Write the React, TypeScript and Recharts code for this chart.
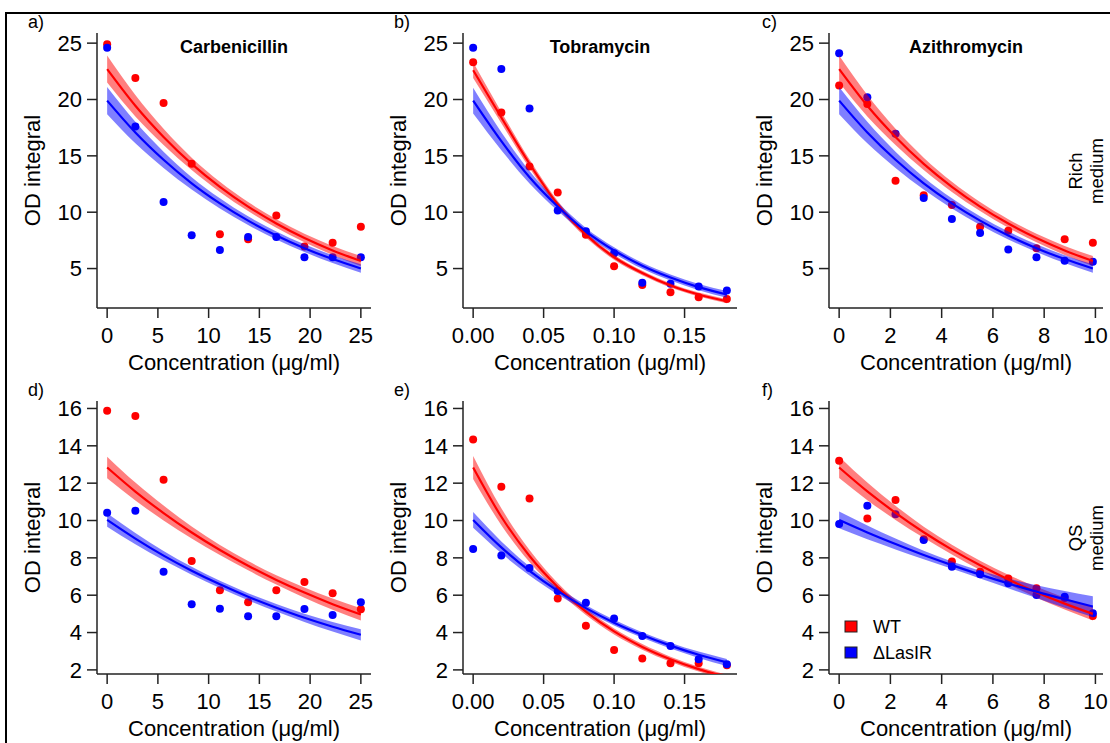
import React from 'react';
import { ComposedChart, Line, Area, XAxis, YAxis } from 'recharts';

const RED = '#ff0000';
const BLUE = '#0000ff';
const FONT = '"Liberation Sans", Arial, Helvetica, sans-serif';

// concentrations (µg/ml)
const carbX = [0, 2.78, 5.56, 8.33, 11.11, 13.89, 16.67, 19.44, 22.22, 25];
const tobraX = [0, 0.02, 0.04, 0.06, 0.08, 0.1, 0.12, 0.14, 0.16, 0.18];
const azithX = [0, 1.1, 2.2, 3.3, 4.4, 5.5, 6.6, 7.7, 8.8, 9.9];

// a) Carbenicillin, rich medium
const wtA = [24.9, 21.9, 19.7, 14.3, 8.05, 7.6, 9.7, 6.95, 7.3, 8.7];
const lasA = [24.6, 17.6, 10.9, 7.95, 6.65, 7.8, 7.8, 6.0, 6.0, 6.0];
const wtFitA = [22.7, 19.45, 16.68, 14.29, 12.25, 10.5, 9.0, 7.71, 6.61, 5.67];
const wtLoA = [21.5, 18.5, 15.96, 13.74, 11.8, 10.1, 8.62, 7.33, 6.21, 5.22];
const wtHiA = [23.9, 20.4, 17.4, 14.84, 12.7, 10.9, 9.38, 8.09, 7.01, 6.12];
const lasFitA = [19.9, 17.07, 14.65, 12.56, 10.78, 9.25, 7.93, 6.81, 5.84, 5.01];
const lasLoA = [18.7, 16.12, 13.93, 12.01, 10.33, 8.87, 7.58, 6.47, 5.49, 4.63];
const lasHiA = [21.1, 18.02, 15.37, 13.11, 11.23, 9.63, 8.28, 7.15, 6.19, 5.39];

// b) Tobramycin, rich medium
const wtB = [23.3, 18.85, 14.05, 11.75, 8.0, 5.2, 3.55, 2.9, 2.45, 2.3];
const lasB = [24.6, 22.7, 19.2, 10.15, 8.3, 6.35, 3.75, 3.65, 3.4, 3.05];
const wtFitB = [22.6, 18.4, 14.3, 10.7, 8.0, 6.0, 4.6, 3.5, 2.7, 2.1];
const wtLoB = [21.9, 17.9, 13.92, 10.4, 7.75, 5.78, 4.4, 3.32, 2.53, 1.93];
const wtHiB = [23.3, 18.9, 14.68, 11.0, 8.25, 6.22, 4.8, 3.68, 2.87, 2.27];
const lasFitB = [19.9, 16.3, 13.1, 10.5, 8.3, 6.6, 5.25, 4.2, 3.35, 2.7];
const lasLoB = [18.75, 15.5, 12.55, 10.12, 8.0, 6.32, 4.98, 3.93, 3.07, 2.4];
const lasHiB = [21.05, 17.1, 13.65, 10.88, 8.6, 6.88, 5.52, 4.47, 3.63, 3.0];

// c) Azithromycin, rich medium
const wtC = [21.25, 19.6, 12.8, 11.5, 10.65, 8.7, 8.35, 6.8, 7.6, 7.3];
const lasC = [24.1, 20.2, 16.95, 11.25, 9.4, 8.15, 6.7, 6.0, 5.7, 5.6];
const wtFitC = [22.7, 19.45, 16.68, 14.29, 12.25, 10.5, 9.0, 7.71, 6.61, 5.67];
const wtLoC = [21.5, 18.5, 15.96, 13.74, 11.8, 10.1, 8.62, 7.33, 6.21, 5.22];
const wtHiC = [23.9, 20.4, 17.4, 14.84, 12.7, 10.9, 9.38, 8.09, 7.01, 6.12];
const lasFitC = [19.9, 17.07, 14.65, 12.56, 10.78, 9.25, 7.93, 6.81, 5.84, 5.01];
const lasLoC = [18.7, 16.12, 13.93, 12.01, 10.33, 8.87, 7.58, 6.47, 5.49, 4.63];
const lasHiC = [21.1, 18.02, 15.37, 13.11, 11.23, 9.63, 8.28, 7.15, 6.19, 5.39];

// d) Carbenicillin, QS medium
const wtD = [15.88, 15.6, 12.18, 7.83, 6.26, 5.62, 6.26, 6.71, 6.1, 5.25];
const lasD = [10.42, 10.52, 7.26, 5.51, 5.28, 4.87, 4.87, 5.26, 4.94, 5.62];
const wtFitD = [12.84, 11.55, 10.4, 9.36, 8.42, 7.58, 6.82, 6.14, 5.52, 4.97];
const wtLoD = [12.26, 11.07, 10.0, 9.04, 8.15, 7.33, 6.57, 5.87, 5.22, 4.64];
const wtHiD = [13.42, 12.03, 10.8, 9.68, 8.69, 7.83, 7.07, 6.41, 5.82, 5.3];
const lasFitD = [10.03, 9.03, 8.12, 7.31, 6.58, 5.92, 5.33, 4.79, 4.31, 3.88];
const lasLoD = [9.67, 8.73, 7.87, 7.1, 6.39, 5.73, 5.13, 4.57, 4.05, 3.58];
const lasHiD = [10.39, 9.33, 8.37, 7.52, 6.77, 6.11, 5.53, 5.01, 4.57, 4.18];

// e) Tobramycin, QS medium
const wtE = [14.34, 11.81, 11.18, 5.82, 4.37, 3.07, 2.61, 2.36, 2.36, 2.25];
const lasE = [8.47, 8.12, 7.46, 6.23, 5.6, 4.75, 3.82, 3.28, 2.57, 2.3];
const wtFitE = [12.84, 10.2, 8.1, 6.44, 5.12, 4.06, 3.23, 2.57, 2.04, 1.62];
const wtLoE = [12.22, 9.75, 7.78, 6.22, 4.94, 3.9, 3.08, 2.43, 1.91, 1.5];
const wtHiE = [13.46, 10.65, 8.42, 6.66, 5.3, 4.22, 3.38, 2.71, 2.17, 1.74];
const lasFitE = [10.03, 8.56, 7.3, 6.23, 5.31, 4.53, 3.87, 3.3, 2.81, 2.4];
const lasLoE = [9.61, 8.24, 7.06, 6.04, 5.15, 4.38, 3.72, 3.14, 2.64, 2.21];
const lasHiE = [10.45, 8.88, 7.54, 6.42, 5.47, 4.68, 4.02, 3.46, 2.98, 2.59];

// f) Azithromycin, QS medium
const wtF = [13.2, 10.11, 11.1, 9.0, 7.8, 7.26, 6.9, 6.37, 5.85, 4.89];
const lasF = [9.81, 10.79, 10.33, 8.95, 7.53, 7.12, 6.64, 6.01, 5.92, 5.03];
const wtFitF = [12.84, 11.56, 10.41, 9.37, 8.44, 7.6, 6.84, 6.16, 5.55, 5.0];
const wtLoF = [12.27, 11.09, 10.03, 9.07, 8.18, 7.35, 6.58, 5.87, 5.23, 4.64];
const wtHiF = [13.41, 12.03, 10.79, 9.67, 8.7, 7.85, 7.1, 6.45, 5.87, 5.36];
const lasFitF = [10.03, 9.36, 8.74, 8.15, 7.61, 7.1, 6.63, 6.19, 5.78, 5.39];
const lasLoF = [9.58, 8.99, 8.45, 7.92, 7.41, 6.89, 6.37, 5.85, 5.33, 4.83];
const lasHiF = [10.48, 9.73, 9.03, 8.38, 7.81, 7.31, 6.89, 6.53, 6.23, 5.95];

// axis ticks
const carbTicks = [0, 5, 10, 15, 20, 25];
const tobraTicks = [0, 0.05, 0.1, 0.15];
const azithTicks = [0, 2, 4, 6, 8, 10];
const richTicks = [5, 10, 15, 20, 25];
const qsTicks = [2, 4, 6, 8, 10, 12, 14, 16];

const titles = ['Carbenicillin', 'Tobramycin', 'Azithromycin'];
const letters = ['a)', 'b)', 'c)', 'd)', 'e)', 'f)'];
const seriesNames = ['WT', '\u0394LasIR'];

const rows = (
  x: number[], wt: number[], las: number[],
  wtFit: number[], wtLo: number[], wtHi: number[],
  lasFit: number[], lasLo: number[], lasHi: number[]
) =>
  x.map((v, i) => ({
    x: v,
    wt: wt[i],
    las: las[i],
    wtFit: wtFit[i],
    lasFit: lasFit[i],
    wtBand: [wtLo[i], wtHi[i]],
    lasBand: [lasLo[i], lasHi[i]],
  }));

// plot-area geometry (page px)
const colX = [97, 463, 829];
const PLOT_W = 274;
const rowY = [
  { y0: 33, y1: 308 },
  { y0: 401, y1: 674 },
];

type PanelProps = {
  data: any[];
  col: number;
  row: number;
  xDomain: [number, number];
  xTicks: number[];
  yDomain: [number, number];
  yTicks: number[];
  fmt?: (v: number) => string;
};

function Panel({ data, col, row, xDomain, xTicks, yDomain, yTicks, fmt }: PanelProps) {
  const { y0, y1 } = rowY[row];
  const tick = { fill: '#000', fontSize: 22, fontFamily: FONT };
  const w = 97 + PLOT_W + 6;
  const h = 33 + (y1 - y0) + 70;
  const margin = { top: 33, left: 37, right: 6, bottom: 30 };

  // two stacked charts with identical geometry: points underneath,
  // confidence bands and fitted curves drawn over them
  const axes = (visible: boolean) => [
    <XAxis
      key="x"
      type="number"
      dataKey="x"
      domain={xDomain}
      ticks={xTicks}
      allowDataOverflow
      interval={0}
      height={40}
      tickSize={10}
      tickMargin={9}
      tick={visible ? tick : false}
      axisLine={visible}
      tickLine={visible}
      tickFormatter={fmt}
      stroke="#222"
      strokeWidth={1.5}
    />,
    <YAxis
      key="y"
      type="number"
      domain={yDomain}
      ticks={yTicks}
      allowDataOverflow
      interval={0}
      width={60}
      tickSize={10}
      tickMargin={5}
      tick={visible ? tick : false}
      axisLine={visible}
      tickLine={visible}
      stroke="#222"
      strokeWidth={1.5}
    />,
  ];

  return (
    <div style={{ position: 'absolute', left: colX[col] - 97, top: y0 - 33, width: w, height: h }}>
      <div style={{ position: 'absolute', left: 0, top: 0 }}>
        <ComposedChart width={w} height={h} data={data} margin={margin}>
          {axes(true)}
          <Line dataKey="wt" stroke="none" dot={{ r: 4, fill: RED, stroke: 'none' }} activeDot={false} isAnimationActive={false} />
          <Line dataKey="las" stroke="none" dot={{ r: 4, fill: BLUE, stroke: 'none' }} activeDot={false} isAnimationActive={false} />
        </ComposedChart>
      </div>
      <div style={{ position: 'absolute', left: 0, top: 0 }}>
        <ComposedChart width={w} height={h} data={data} margin={margin}>
          {axes(false)}
          <Area dataKey="wtBand" type="monotone" fill={RED} fillOpacity={0.5} stroke="none" isAnimationActive={false} />
          <Area dataKey="lasBand" type="monotone" fill={BLUE} fillOpacity={0.5} stroke="none" isAnimationActive={false} />
          <Line dataKey="wtFit" type="monotone" stroke={RED} strokeWidth={2.2} dot={false} activeDot={false} isAnimationActive={false} />
          <Line dataKey="lasFit" type="monotone" stroke={BLUE} strokeWidth={2.2} dot={false} activeDot={false} isAnimationActive={false} />
        </ComposedChart>
      </div>
    </div>
  );
}

const carbDomain: [number, number] = [-1, 26];
const tobraDomain: [number, number] = [-0.0072, 0.1872];
const azithDomain: [number, number] = [-0.396, 10.296];
const richDomain: [number, number] = [1.5, 25.9];
const qsDomain: [number, number] = [1.78, 16.4];
const fmt2 = (v: number) => v.toFixed(2);

export default function App() {
  const cx = colX.map((x) => x + PLOT_W / 2);
  return (
    <div style={{ position: 'relative', width: 1110, height: 743, background: '#fff', fontFamily: FONT, overflow: 'hidden' }}>
      <style>{'body{margin:0}'}</style>
      <Panel data={rows(carbX, wtA, lasA, wtFitA, wtLoA, wtHiA, lasFitA, lasLoA, lasHiA)} col={0} row={0} xDomain={carbDomain} xTicks={carbTicks} yDomain={richDomain} yTicks={richTicks} />
      <Panel data={rows(tobraX, wtB, lasB, wtFitB, wtLoB, wtHiB, lasFitB, lasLoB, lasHiB)} col={1} row={0} xDomain={tobraDomain} xTicks={tobraTicks} yDomain={richDomain} yTicks={richTicks} fmt={fmt2} />
      <Panel data={rows(azithX, wtC, lasC, wtFitC, wtLoC, wtHiC, lasFitC, lasLoC, lasHiC)} col={2} row={0} xDomain={azithDomain} xTicks={azithTicks} yDomain={richDomain} yTicks={richTicks} />
      <Panel data={rows(carbX, wtD, lasD, wtFitD, wtLoD, wtHiD, lasFitD, lasLoD, lasHiD)} col={0} row={1} xDomain={carbDomain} xTicks={carbTicks} yDomain={qsDomain} yTicks={qsTicks} />
      <Panel data={rows(tobraX, wtE, lasE, wtFitE, wtLoE, wtHiE, lasFitE, lasLoE, lasHiE)} col={1} row={1} xDomain={tobraDomain} xTicks={tobraTicks} yDomain={qsDomain} yTicks={qsTicks} fmt={fmt2} />
      <Panel data={rows(azithX, wtF, lasF, wtFitF, wtLoF, wtHiF, lasFitF, lasLoF, lasHiF)} col={2} row={1} xDomain={azithDomain} xTicks={azithTicks} yDomain={qsDomain} yTicks={qsTicks} />

      <svg width={1110} height={743} style={{ position: 'absolute', left: 0, top: 0, pointerEvents: 'none' }} fontFamily={FONT}>
        {/* outer frame */}
        <line x1={5} y1={13} x2={1110} y2={13} stroke="#000" strokeWidth={2} />
        <line x1={6} y1={12} x2={6} y2={743} stroke="#000" strokeWidth={2} />

        {letters.map((l, i) => (
          <text key={l} x={[28, 394, 762][i % 3]} y={i < 3 ? 28 : 396} fontSize={18} fill="#000">{l}</text>
        ))}

        {titles.map((t, i) => (
          <text key={t} x={cx[i]} y={53} fontSize={18} fontWeight="bold" textAnchor="middle" fill="#000">{t}</text>
        ))}

        {rowY.map((r, ri) =>
          colX.map((x0, ci) => (
            <g key={`${ri}-${ci}`}>
              <text
                transform={`translate(${x0 - 57},${(r.y0 + r.y1) / 2}) rotate(-90)`}
                fontSize={22}
                textAnchor="middle"
                fill="#000"
              >
                OD integral
              </text>
              <text x={cx[ci]} y={r.y1 + 62} fontSize={22} textAnchor="middle" fill="#000">
                {'Concentration (\u03bcg/ml)'}
              </text>
            </g>
          ))
        )}

        {/* medium labels */}
        <text transform="translate(1082,171) rotate(-90)" fontSize={18.5} textAnchor="middle" fill="#000">Rich</text>
        <text transform="translate(1103,171) rotate(-90)" fontSize={18.5} textAnchor="middle" fill="#000">medium</text>
        <text transform="translate(1082,538) rotate(-90)" fontSize={18.5} textAnchor="middle" fill="#000">QS</text>
        <text transform="translate(1103,538) rotate(-90)" fontSize={18.5} textAnchor="middle" fill="#000">medium</text>

        {/* legend */}
        {seriesNames.map((n, i) => (
          <g key={n}>
            <rect x={845} y={621 + i * 26} width={12} height={11} fill={i === 0 ? RED : BLUE} stroke="#222" strokeWidth={1} />
            <text x={873} y={633 + i * 26} fontSize={18} fill="#000">{n}</text>
          </g>
        ))}
      </svg>
    </div>
  );
}
